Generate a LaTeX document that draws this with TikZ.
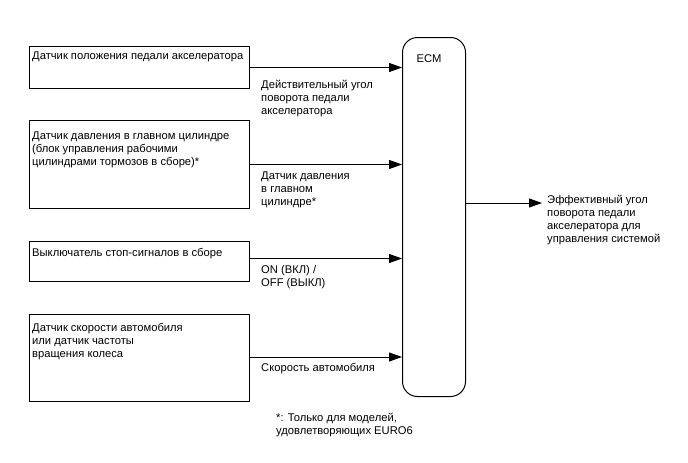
\documentclass[tikz,border=0pt]{standalone}
\usepackage{fontspec}
\setmainfont{Liberation Sans}
\usetikzlibrary{arrows.meta,positioning,calc}

\begin{document}
\begin{tikzpicture}[x=1pt,y=-1pt,>={Triangle[length=13pt,width=9pt]},
  sensor/.style={draw,line width=1pt,minimum width=220pt,inner sep=0pt,anchor=north west},
  txt/.style={align=left,inner sep=0pt,anchor=north west,font=\fontsize{11.2}{13}\selectfont},
  sig/.style={->,line width=0.9pt}]
\useasboundingbox (0,0) rectangle (688,463);
% sensors
\node[sensor,minimum height=42pt] (app) at (29,46) {};
\node[sensor,minimum height=88pt] (mc) at (29,120) {};
\node[sensor,minimum height=40pt] (stop) at (29,241) {};
\node[sensor,minimum height=87pt] (spd) at (29,314) {};
\node[txt] (appt) at ($(app.north west)+(3,6)$) {Датчик положения педали акселератора};
\node[txt] (mct) at ($(mc.north west)+(3,12)$) {Датчик давления в главном цилиндре\\(блок управления рабочими\\цилиндрами тормозов в сборе)*};
\node[txt] (stopt) at ($(stop.north west)+(3,7)$) {Выключатель стоп-сигналов в сборе};
\node[txt] (spdt) at ($(spd.north west)+(3,9)$) {Датчик скорости автомобиля\\или датчик частоты\\вращения колеса};
% ECM
\node[draw,rounded corners=15pt,line width=1pt,minimum width=63pt,minimum height=359pt,anchor=north west] (ecm) at (402,37) {};
\node[font=\fontsize{11.2}{13}\selectfont] (ecmt) at (429,59) {ECM};
% signals
\draw[sig] (app.east) -- (app.east -| ecm.west);
\draw[sig] (mc.east) -- (mc.east -| ecm.west);
\draw[sig] ([yshift=3pt]stop.east) -- ([yshift=3pt]stop.east -| ecm.west);
\draw[sig] ([yshift=1pt]spd.east) -- ([yshift=1pt]spd.east -| ecm.west);
\node[txt] (appl) at (261,80) {Действительный угол\\поворота педали\\акселератора};
\node[txt] (mcl) at (261,172) {Датчик давления\\в главном\\цилиндре*};
\node[txt] (stopl) at (261,265) {ON (ВКЛ) /\\OFF (ВЫКЛ)};
\node[txt] (spdl) at (261,363) {Скорость автомобиля};
% output
\coordinate (outp) at (542,203);
\draw[sig] (ecm.east |- outp) -- (outp);
\node[txt] (outl) at (547,195) {Эффективный угол\\поворота педали\\акселератора для\\управления системой};
\node[txt] (note) at (276,413) {*: Только для моделей,\\удовлетворяющих EURO6};
\end{tikzpicture}
\end{document}
